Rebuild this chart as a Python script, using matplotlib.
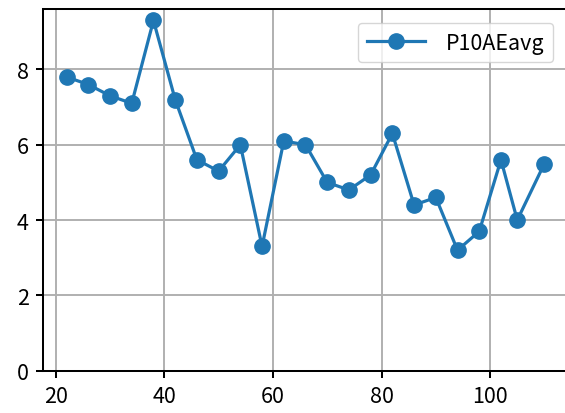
import matplotlib
matplotlib.use("Agg")
import matplotlib.pyplot as plt

plt.rcParams['font.family'] = ['Noto Sans CJK JP', 'DejaVu Sans']

x_vals = [22, 26, 30, 34, 38, 42, 46, 50, 54, 58, 62, 66, 70, 74, 78, 82, 86, 90, 94, 98, 102, 105, 110]
y_vals = [7.8, 7.6, 7.3, 7.1, 9.3, 7.2, 5.6, 5.3, 6.0, 3.3, 6.1, 6.0, 5.0, 4.8, 5.2, 6.3, 4.4, 4.6, 3.2, 3.7, 5.6, 4.0, 5.5]
series_label = "P10AEavg"

W, H = 565, 414
fig = plt.figure(figsize=(W / 100, H / 100), dpi=100)
left, bottom_px, right_px, top_px = 42.7, 371.7, 568.3, 10.0
ax = fig.add_axes([left / W, (H - bottom_px) / H, (right_px - left) / W, (bottom_px - top_px) / H])

ax.plot(x_vals, y_vals, marker='o', color='#1f77b4', linewidth=2.3, markersize=11, label=series_label)
ax.set_ylim(bottom=0)
ax.grid(True, color='#b0b0b0', linewidth=1.4)
ax.set_axisbelow(True)

for sp in ax.spines.values():
    sp.set_linewidth(1.45)
ax.tick_params(axis='both', length=5, width=1.45, labelsize=15.5, pad=5)

leg = ax.legend(loc='upper right', bbox_to_anchor=(0.9715, 0.9613), borderaxespad=0, fontsize=15.5,
                frameon=True, fancybox=True, handlelength=2.7, handletextpad=1.0)

fig.savefig('out.png', dpi=100)
